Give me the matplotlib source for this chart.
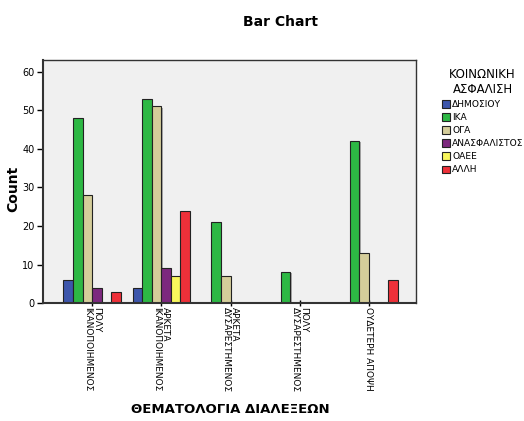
import numpy as np
import matplotlib
matplotlib.use('Agg')
import matplotlib.pyplot as plt
from matplotlib.patches import Patch

categories = ['ΠΟΛΥ\nΙΚΑΝΟΠΟΙΗΜΕΝΟΣ', 'ΑΡΚΕΤΑ\nΙΚΑΝΟΠΟΙΗΜΕΝΟΣ', 'ΑΡΚΕΤΑ\nΔΥΣΑΡΕΣΤΗΜΕΝΟΣ',
              'ΠΟΛΥ\nΔΥΣΑΡΕΣΤΗΜΕΝΟΣ', 'ΟΥΔΕΤΕΡΗ ΑΠΟΨΗ']
series_names = ['ΔΗΜΟΣΙΟΥ', 'ΙΚΑ', 'ΟΓΑ', 'ΑΝΑΣΦΑΛΙΣΤΟΣ', 'ΟΑΕΕ', 'ΑΛΛΗ']
dimosiou = [6, 4, 0, 0, 0]
ika = [48, 53, 21, 8, 42]
oga = [28, 51, 7, 0, 13]
anasfalistos = [4, 9, 0, 0, 0]
oaee = [0, 7, 0, 0, 0]
alli = [3, 24, 0, 0, 6]
colors = ['#3D56AC', '#2DB844', '#D4CD9A', '#7C287E', '#F8F65C', '#EE3039']

series = [dimosiou, ika, oga, anasfalistos, oaee, alli]

fig = plt.figure(figsize=(5.24, 4.21), dpi=100)
ax = fig.add_axes([0.082, 0.280, 0.712, 0.577])
ax.set_facecolor('#F0F0F0')

x = np.arange(len(categories))
w = 0.138
for i, (vals, c) in enumerate(zip(series, colors)):
    pos = x + (i - 2.5) * w
    v = np.array(vals)
    m = v > 0
    # shadow
    ax.bar(pos[m] + 0.02, v[m] - 0.3, width=w, bottom=0, color='#A8A8A8', zorder=1)
    ax.bar(pos[m], v[m], width=w, color=c, edgecolor='#222222', linewidth=0.8, zorder=2)

ax.set_xlim(-0.71, len(categories) - 1 + 0.68)
ax.set_ylim(0, 63)
ax.set_yticks([0, 10, 20, 30, 40, 50, 60])
ax.tick_params(axis='y', labelsize=7, length=4, width=1, pad=2)
ax.set_xticks(x)
ax.set_xticklabels(categories, rotation=-90, fontsize=6.5, ha='center', va='top',
                   linespacing=0.95, multialignment='left')
ax.tick_params(axis='x', length=4, width=1, direction='inout', pad=1)
for s in ax.spines.values():
    s.set_color('#333333')
    s.set_linewidth(1)
ax.spines['left'].set_linewidth(1.5)
ax.spines['bottom'].set_linewidth(1.5)

ax.set_ylabel('Count', fontsize=10, fontweight='bold')
ax.yaxis.set_label_coords(-0.06, 0.47)
fig.text(0.44, 0.013, 'ΘΕΜΑΤΟΛΟΓΙΑ ΔΙΑΛΕΞΕΩΝ', fontsize=9.5, fontweight='bold',
         ha='center', va='bottom')
fig.text(0.535, 0.947, 'Bar Chart', fontsize=10, fontweight='bold', ha='center', va='center')

handles = [Patch(facecolor=c, edgecolor='#222222', linewidth=0.8) for c in colors]
leg = fig.legend(handles, series_names, title='ΚΟΙΝΩΝΙΚΗ\nΑΣΦΑΛΙΣΗ', loc='upper left',
                 bbox_to_anchor=(0.834, 0.85), frameon=False, fontsize=6.6,
                 title_fontsize=8.5, handlelength=0.9, handleheight=0.9,
                 handletextpad=0.25, labelspacing=0.45, borderpad=0)
leg.get_title().set_multialignment('center')

fig.savefig('out.png', dpi=100)
